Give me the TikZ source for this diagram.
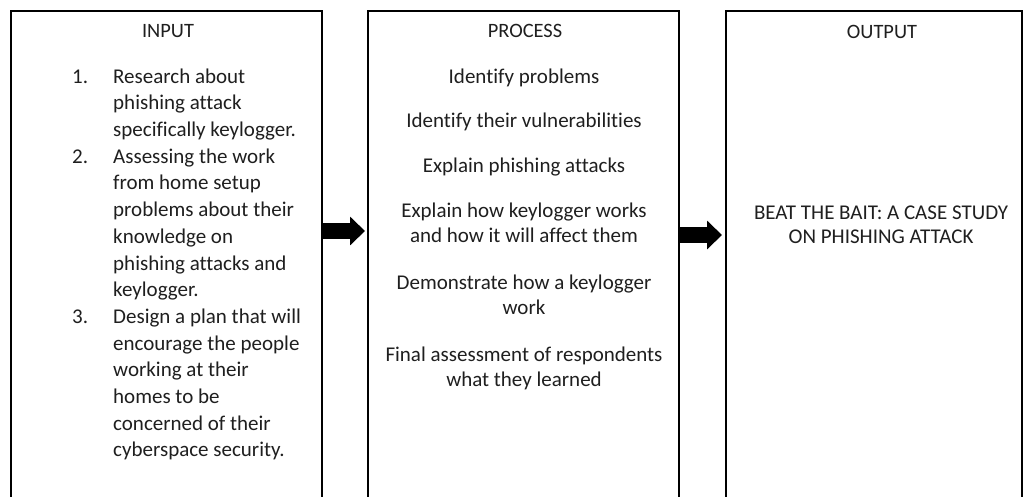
\documentclass[tikz,border=0pt]{standalone}
\usepackage{fontspec}
\setmainfont{Carlito}[Ligatures={NoCommon}]
\usetikzlibrary{arrows.meta}
\newcommand{\stack}[1]{\begin{tabular}[t]{@{}c@{}}#1\end{tabular}}

\begin{document}
\begin{tikzpicture}[x=1pt,y=-1pt,
  box/.style={draw=black,line width=2pt,outer sep=0pt,anchor=north west,minimum height=520pt},
  txt/.style={text=black!88,font=\fontsize{21}{25}\selectfont},
  title/.style={txt,font=\fontsize{20.4}{24}\selectfont},
  bigarrow/.style={line width=16pt,-{Triangle[length=15pt,width=28pt]}}]
\tikzstyle{every node}+=[inner sep=0pt]
\useasboundingbox (0,0) rectangle (1024,496);
\clip (0,0) rectangle (1024,496);
\fill[white] (0,0) rectangle (1024,496);
% the three columns
\node[box,minimum width=311pt] (in) at (11,11) {};
\node[box,minimum width=311pt] (proc) at (368,11) {};
\node[box,minimum width=296pt] (out) at (726,11) {};
\node[title,anchor=base] (intitle) at (168,37) {INPUT};
\node[title,anchor=base] (proctitle) at (525,37) {PROCESS};
\node[title,anchor=base] (outtitle) at (882,38) {OUTPUT};
% input list
\node[txt,anchor=north west,font=\fontsize{21}{26.7}\selectfont] (inlist) at (72,64.3) {%
  \begin{tabular}{@{}p{41pt}@{}l@{}}
  1. & Research about\\
     & phishing attack\\
     & specifically keylogger.\\
  2. & Assessing the work\\
     & from home setup\\
     & problems about their\\
     & knowledge on\\
     & phishing attacks and\\
     & keylogger.\\
  3. & Design a plan that will\\
     & encourage the people\\
     & working at their\\
     & homes to be\\
     & concerned of their\\
     & cyberspace security.
  \end{tabular}};
% process steps
\node[txt,anchor=base] (p1) at (524,83) {Identify problems};
\node[txt,anchor=base] (p2) at (524,127) {Identify their vulnerabilities};
\node[txt,anchor=base] (p3) at (524,172) {Explain phishing attacks};
\node[txt,anchor=base] (p4) at (524,217) {\stack{Explain how keylogger works\\and how it will affect them}};
\node[txt,anchor=base] (p5) at (524,289) {\stack{Demonstrate how a keylogger\\work}};
\node[txt,anchor=base] (p6) at (524,361) {\stack{Final assessment of respondents\\what they learned}};
% output
\node[txt,anchor=base,font=\fontsize{21}{24}\selectfont] (result) at (881,219) {\stack{BEAT THE BAIT: A CASE STUDY\\ON PHISHING ATTACK}};
% arrows
\draw[bigarrow,shorten >=3pt] ([yshift=-220pt]in.north east) -- ([yshift=-220pt]proc.north west);
\draw[bigarrow,shorten >=4pt] ([yshift=-224pt]proc.north east) -- ([yshift=-224pt]out.north west);
\end{tikzpicture}
\end{document}
